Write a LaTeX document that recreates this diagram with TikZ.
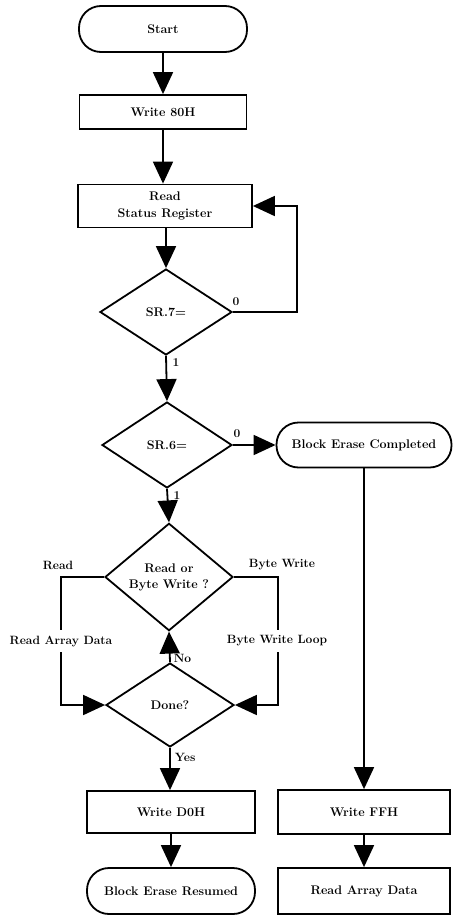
\documentclass[tikz,border=0pt]{standalone}
\usetikzlibrary{shapes.geometric,arrows.meta}
\begin{document}
\begin{tikzpicture}[x=1pt,y=-1pt,
  line width=1.8pt,
  every node/.style={font=\fontsize{12.5}{14}\selectfont\bfseries},
  procbox/.style={draw,rectangle,inner sep=0pt,align=center},
  termbox/.style={draw,rectangle,rounded corners=22pt,inner sep=0pt,align=center},
  decbox/.style={draw,diamond,inner sep=0pt,align=center},
  lbl/.style={inner sep=1pt,font=\fontsize{12}{13}\selectfont\bfseries},
  flow/.style={-{Triangle[length=22pt,width=20pt]}}
]
\fill[white] (0,0) rectangle (453,923);
\useasboundingbox (0,0) rectangle (453,923);

\node[termbox,minimum width=168pt,minimum height=46pt] (start) at (163,29) {Start};
\node[procbox,minimum width=167pt,minimum height=34pt] (w80) at (163,112) {Write 80H};
\node[procbox,minimum width=174pt,minimum height=43pt] (read) at (165,206) {Read\\[3pt]Status Register};
\node[decbox,minimum width=132pt,minimum height=86pt] (sr7) at (166,312) {SR.7=};
\node[decbox,minimum width=130pt,minimum height=86pt] (sr6) at (167,445) {SR.6=};
\node[termbox,minimum width=175pt,minimum height=45pt] (bec) at (364,445) {Block Erase Completed};
\node[decbox,minimum width=128pt,minimum height=88pt] (rbw) at (169,577) {Read or\\[2pt]Byte Write ?};
\node[decbox,minimum width=128pt,minimum height=84pt] (done) at (170,705) {Done?};
\node[procbox,minimum width=168pt,minimum height=42pt] (wd0) at (171,812) {Write D0H};
\node[termbox,minimum width=168pt,minimum height=46pt] (ber) at (171,891) {Block Erase Resumed};
\node[procbox,minimum width=172pt,minimum height=44pt] (wff) at (364,812) {Write FFH};
\node[procbox,minimum width=172pt,minimum height=46pt] (rad) at (364,891) {Read Array Data};

\coordinate (fb) at (297,312);
\coordinate (lc) at (61,577);
\coordinate (ld) at (61,705);
\coordinate (rc) at (278,577);
\coordinate (rd) at (278,705);

\draw[flow] (start.south) -- (start.south |- w80.north);
\draw[flow] (w80.south) -- (w80.south |- read.north);
\draw[flow] (read.south -| sr7.north) -- (sr7.north);
\draw[flow] (sr7.east) -- (fb) |- (read.east);
\draw[flow] (sr7.south) -- (sr6.north);
\draw[flow] (sr6.east) -- (bec.west);
\draw[flow] (bec.south) -- (wff.north);
\draw[flow] (sr6.south) -- (rbw.north);
\draw[flow] (rbw.west) -- (lc) -- (ld) -- (done.west);
\draw[flow] (rbw.east) -- (rc) -- (rd) -- (done.east);
\draw[flow] (done.north) -- (rbw.south);
\draw[flow] (done.south) -- (done.south |- wd0.north);
\draw[flow] (wd0.south) -- (wd0.south |- ber.north);
\draw[flow] (wff.south) -- (rad.north);

\node[lbl] (l0a) at (236,302) {0};
\node[lbl] (l1a) at (176,363) {1};
\node[lbl] (l0b) at (237,434) {0};
\node[lbl] (l1b) at (177,496) {1};
\node[lbl] (lread) at (58,565) {Read};
\node[lbl] (lbw) at (282,565) {Byte Write};
\node[lbl,fill=white,inner ysep=6pt] (lrad) at (61,641) {Read Array Data};
\node[lbl,fill=white,inner ysep=6pt] (lbwl) at (277,641) {Byte Write Loop};
\node[lbl,anchor=west] (lno) at (172,658) {No};
\node[lbl,anchor=west] (lyes) at (173,757) {Yes};
\end{tikzpicture}
\end{document}
